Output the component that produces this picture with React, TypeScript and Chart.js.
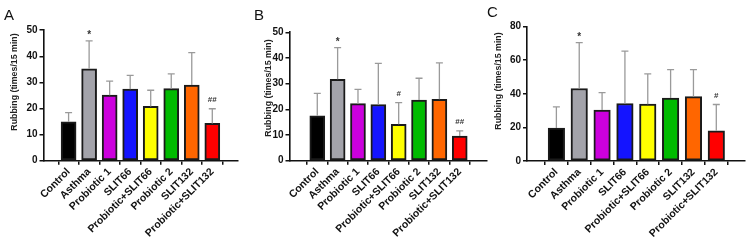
import React, { useEffect, useRef } from 'react';
import { Chart, registerables } from 'chart.js';

Chart.register(...registerables);

const categories = ['Control', 'Asthma', 'Probiotic 1', 'SLIT66', 'Probiotic+SLIT66', 'Probiotic 2', 'SLIT132', 'Probiotic+SLIT132'];
const barColors = ['#000000', '#a3a3aa', '#cc00dd', '#1414ff', '#ffff00', '#00bb00', '#ff6600', '#ff0000'];

const meansA = [14.9, 35.2, 25.1, 27.4, 20.8, 27.6, 29.0, 14.3];
const errorsA = [3.5, 10.7, 5.4, 5.3, 6.2, 5.7, 12.4, 5.6];
const marksA = ['', '*', '', '', '', '', '', '##'];

const meansB = [17.5, 31.7, 22.2, 21.9, 14.2, 23.6, 23.9, 9.6];
const errorsB = [8.7, 12.3, 5.6, 16.0, 8.4, 8.5, 14.2, 2.0];
const marksB = ['', '*', '', '', '#', '', '', '##'];

const meansC = [19.6, 43.1, 30.3, 34.2, 33.8, 37.4, 38.3, 18.0];
const errorsC = [12.6, 27.3, 10.4, 31.1, 18.0, 17.0, 16.1, 15.6];
const marksC = ['', '*', '', '', '', '', '', '#'];

const yTitle = 'Rubbing (times/15 min)';
const panelLetters = ['A', 'B', 'C'];
const yMaxes = [50, 50, 80];
const ySteps = [10, 10, 20];

const FONT = '"Liberation Sans", Arial, sans-serif';
const W = 750;
const H = 243;

type Layout = {
  left: number; right: number; top: number; bottom: number;
  xMin: number; xMax: number; barW: number;
  titleX: number; titleY: number; letterX: number; letterY: number;
};

const layouts: Layout[] = [
  { left: 43.5, right: 238, top: 30.2, bottom: 160.7, xMin: -0.63, xMax: 7.66, barW: 15, titleX: 15, titleY: 82, letterX: 4, letterY: 20 },
  { left: 289.5, right: 486.5, top: 32.3, bottom: 160.7, xMin: -0.76, xMax: 7.71, barW: 15, titleX: 268.7, titleY: 88, letterX: 254, letterY: 20 },
  { left: 527, right: 745, top: 26.5, bottom: 161, xMin: -0.69, xMax: 7.66, barW: 16.5, titleX: 498.3, titleY: 81, letterX: 487, letterY: 17 },
];

const panels = [
  { means: meansA, errors: errorsA, marks: marksA },
  { means: meansB, errors: errorsB, marks: marksB },
  { means: meansC, errors: errorsC, marks: marksC },
];

function makeDecor(idx: number) {
  const p = panels[idx];
  const L = layouts[idx];
  return {
    id: 'decor' + idx,
    afterDatasetsDraw(chart: any) {
      const ctx = chart.ctx;
      const meta = chart.getDatasetMeta(0);
      const ys = chart.scales.y;
      ctx.save();
      meta.data.forEach((bar: any, i: number) => {
        const top = ys.getPixelForValue(p.means[i] + p.errors[i]);
        const x = bar.x;
        ctx.strokeStyle = '#9a9a9a';
        ctx.lineWidth = 1.3;
        ctx.beginPath();
        ctx.moveTo(x, bar.y);
        ctx.lineTo(x, top);
        ctx.moveTo(x - 3.5, top);
        ctx.lineTo(x + 3.5, top);
        ctx.stroke();
        const m = p.marks[i];
        if (m) {
          ctx.fillStyle = '#333';
          ctx.textAlign = 'center';
          ctx.textBaseline = 'alphabetic';
          if (m === '*') {
            ctx.font = `bold 10px ${FONT}`;
            ctx.fillText(m, x, top - 2.5);
          } else {
            ctx.font = `bold 8px ${FONT}`;
            ctx.fillText(m, x, top - 7);
          }
        }
      });
      // y-axis title
      ctx.save();
      ctx.translate(L.titleX, L.titleY);
      ctx.rotate(-Math.PI / 2);
      ctx.font = `bold 8.8px ${FONT}`;
      ctx.fillStyle = '#222';
      ctx.textAlign = 'center';
      ctx.textBaseline = 'middle';
      ctx.fillText(yTitle, 0, 0);
      ctx.restore();
      // panel letter
      ctx.font = `15px ${FONT}`;
      ctx.fillStyle = '#111';
      ctx.textAlign = 'left';
      ctx.textBaseline = 'alphabetic';
      ctx.fillText(panelLetters[idx], L.letterX, L.letterY);
      ctx.restore();
    },
  };
}

function Panel({ idx }: { idx: number }) {
  const ref = useRef<HTMLCanvasElement>(null);
  useEffect(() => {
    const L = layouts[idx];
    const p = panels[idx];
    const yAxisW = 30;
    const chart = new Chart(ref.current as HTMLCanvasElement, {
      type: 'bar',
      data: {
        datasets: [
          {
            data: p.means.map((v, i) => ({ x: i, y: v })),
            backgroundColor: barColors,
            borderColor: '#1a1a1a',
            borderWidth: 2,
            borderSkipped: false,
            barThickness: L.barW,
          } as any,
        ],
      },
      options: {
        responsive: false,
        maintainAspectRatio: false,
        animation: false,
        devicePixelRatio: 1,
        layout: {
          padding: { left: L.left - yAxisW, right: W - L.right, top: L.top, bottom: 0 },
        },
        plugins: { legend: { display: false }, tooltip: { enabled: false }, title: { display: false } },
        scales: {
          x: {
            type: 'linear',
            bounds: 'data',
            min: L.xMin,
            max: L.xMax,
            afterBuildTicks: (axis: any) => {
              axis.ticks = categories.map((_, i) => ({ value: i }));
            },
            afterFit: (axis: any) => {
              axis.height = H - L.bottom;
            },
            ticks: {
              autoSkip: false,
              minRotation: 45,
              maxRotation: 45,
              padding: 1,
              color: '#111',
              font: { family: FONT, size: 10.5, weight: 'bold' },
              callback: (v: any) => categories[Math.round(Number(v))] ?? '',
            },
            grid: { display: true, drawOnChartArea: false, drawTicks: true, tickLength: 4, color: '#111', lineWidth: 1.5 },
            border: { display: true, color: '#111', width: 1.6 },
          },
          y: {
            min: 0,
            max: yMaxes[idx],
            afterFit: (axis: any) => {
              axis.width = yAxisW;
            },
            ticks: {
              stepSize: ySteps[idx],
              padding: 2,
              color: '#111',
              font: { family: FONT, size: 10, weight: 'bold' },
            },
            grid: { display: true, drawOnChartArea: false, drawTicks: true, tickLength: 4, color: '#111', lineWidth: 1.5 },
            border: { display: true, color: '#111', width: 1.6 },
          },
        },
      } as any,
      plugins: [makeDecor(idx)],
    });
    return () => chart.destroy();
  }, [idx]);
  return (
    <canvas
      ref={ref}
      width={W}
      height={H}
      style={{ position: 'absolute', left: 0, top: 0, width: W, height: H }}
    />
  );
}

export default function App() {
  return (
    <div style={{ position: 'absolute', left: 0, top: 0, width: W, height: H, background: '#fff', overflow: 'hidden' }}>
      <Panel idx={0} />
      <Panel idx={1} />
      <Panel idx={2} />
    </div>
  );
}
